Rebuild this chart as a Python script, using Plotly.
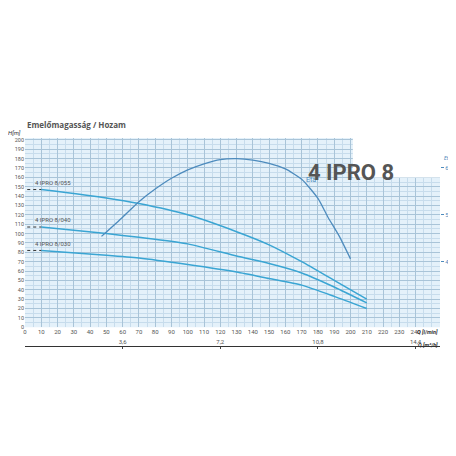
import plotly.graph_objects as go

q = [10, 50, 70, 100, 130, 150, 170, 190, 210]
h_055 = [147, 138, 132, 120, 102, 88, 70, 50, 30]
h_040 = [107, 100, 96, 89, 76, 68, 58, 43, 26]
h_030 = [82, 77, 74, 67, 59, 52, 45, 33, 20]

q_eta = [47, 60, 70, 80, 90, 100, 110, 120, 130, 140, 150, 160, 170, 180, 186, 193, 200]
eta = [45.4, 49.5, 52.8, 55.5, 57.8, 59.6, 60.9, 61.8, 62, 61.7, 61, 59.8, 57.6, 53.5, 49.6, 45.5, 40.6]

curves = [("4 IPRO 8/055", h_055), ("4 IPRO 8/040", h_040), ("4 IPRO 8/030", h_030)]
blue = "#3aa5d3"

fig = go.Figure()
for name, h in curves:
    fig.add_trace(go.Scatter(x=q, y=h, mode="lines", line=dict(color=blue, width=1.5, shape="spline", smoothing=0.6),
                             name=name, showlegend=False))
    fig.add_annotation(x=5, y=h[0] + 2, text=name, showarrow=False, xanchor="left", yanchor="bottom",
                       font=dict(size=6, color="#555"))
    fig.add_shape(type="line", xref="x", yref="y", x0=-6, x1=10, y0=h[0], y1=h[0],
                  line=dict(color="#333", width=1, dash="dot"))

fig.add_trace(go.Scatter(x=q_eta, y=eta, yaxis="y2", mode="lines",
                         line=dict(color="#4d8bbd", width=1.3, shape="spline", smoothing=0.6), showlegend=False))
fig.add_annotation(x=176, y=57.5, yref="y2", text="Eta", showarrow=False, font=dict(size=7, color="#4d8bbd"))

# dummy trace for second x axis
fig.add_trace(go.Scatter(x=[0], y=[None], xaxis="x2", showlegend=False))

fig.update_layout(
    width=456, height=456,
    margin=dict(l=17, r=24, t=130, b=118),
    paper_bgcolor="white", plot_bgcolor="#e4f1fa",
    font=dict(family="Roboto", size=6, color="#555"),
    xaxis=dict(range=[0, 255], tickvals=list(range(0, 250, 10)), showgrid=True, automargin=False,
               gridcolor="#a9c4d8", gridwidth=1, ticks="", tickfont=dict(size=6),
               minor=dict(dtick=5, showgrid=True, gridcolor="#c7dcec"), zeroline=False),
    yaxis=dict(range=[0, 202], domain=[0.09, 1], tickvals=list(range(0, 210, 10)), automargin=False,
               gridcolor="#a9c4d8", minor=dict(dtick=5, showgrid=True, gridcolor="#c7dcec"),
               tickfont=dict(size=5.5), zeroline=False),
    yaxis2=dict(range=[26, 66.4], overlaying="y", side="right", tickvals=[40, 50, 60], automargin=False,
                showgrid=False, tickfont=dict(size=6, color="#4d8bbd"), ticks="outside",
                ticklen=3, tickcolor="#4d8bbd", zeroline=False),
    xaxis2=dict(range=[0, 15.3], anchor="free", position=0, overlaying="x", automargin=False,
                tickvals=[3.6, 7.2, 10.8, 14.4], ticktext=["3,6", "7,2", "10,8", "14,4"],
                showgrid=False, showline=True, linecolor="#333", ticks="inside", ticklen=2,
                side="top", tickfont=dict(size=6), zeroline=False),
)

fig.add_annotation(xref="paper", yref="paper", x=0.0, y=1.03, yanchor="bottom", xanchor="left",
                   text="<b>Emelőmagasság / Hozam</b>", showarrow=False,
                   font=dict(size=8, color="#555", family="Open Sans"))
fig.add_annotation(xref="paper", yref="paper", x=-0.005, y=1.0, yanchor="bottom", xanchor="right",
                   text="<i>H[m]</i>", showarrow=False, font=dict(size=6, color="#333"))
fig.add_annotation(xref="paper", yref="paper", x=1.005, y=0.93, xanchor="left",
                   text="<i>Eta [%]</i>", showarrow=False, font=dict(size=5, color="#4d8bbd"))
fig.add_shape(type="rect", xref="paper", yref="paper", x0=0.79, x1=1.0, y0=0.81, y1=1.0,
              fillcolor="white", line=dict(width=0), layer="above")
fig.add_annotation(xref="paper", yref="paper", x=0.895, y=0.905, text="<b>4 IPRO 8</b>",
                   showarrow=False, font=dict(size=22, color="#555", family="Roboto"))
fig.add_annotation(xref="paper", yref="paper", x=1.0, y=0.045, xanchor="right",
                   text="<b><i>Q [l/min]</i></b>", showarrow=False, font=dict(size=5.5, color="#333"))
fig.add_annotation(xref="paper", yref="paper", x=1.0, y=-0.02, xanchor="right",
                   text="<b><i>Q [m³/h]</i></b>", showarrow=False, font=dict(size=5.5, color="#333"))
fig.add_annotation(xref="paper", yref="paper", x=1.03, y=0.045, xanchor="left",
                   text="➤", showarrow=False, font=dict(size=6, color="#333"))
fig.add_annotation(xref="paper", yref="paper", x=1.03, y=-0.02, xanchor="left",
                   text="➤", showarrow=False, font=dict(size=6, color="#333"))

fig.write_html("out.html")
